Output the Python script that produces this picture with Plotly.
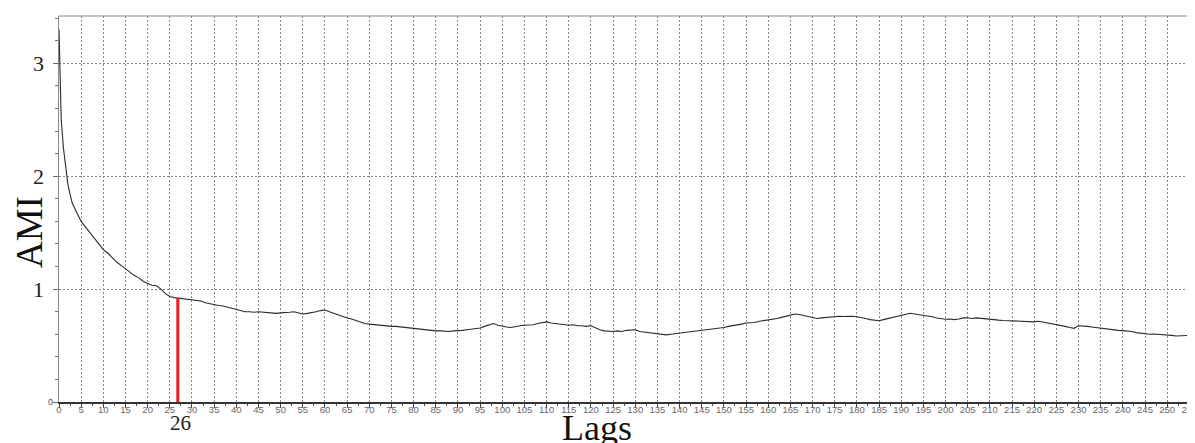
import plotly.graph_objects as go

# ---- data ----
lags_head = [0, 0.2, 0.5, 1, 1.5, 2, 2.5]
ami_head = [3.30, 2.85, 2.50, 2.25, 2.07, 1.93, 1.84]

ami_int = [
    # 3..29
    1.76, 1.68, 1.60, 1.55, 1.50, 1.44, 1.39, 1.35, 1.32, 1.28,
    1.24, 1.21, 1.18, 1.15, 1.12, 1.10, 1.07, 1.05, 1.035, 1.03,
    1.00, 0.96, 0.935, 0.925, 0.92, 0.91, 0.905,
    # 30..59
    0.90, 0.90, 0.895, 0.88, 0.87, 0.86, 0.855, 0.85, 0.84, 0.835,
    0.825, 0.81, 0.80, 0.80, 0.795, 0.80, 0.795, 0.79, 0.79, 0.785,
    0.79, 0.79, 0.795, 0.80, 0.79, 0.78, 0.785, 0.79, 0.80, 0.81,
    # 60..89
    0.815, 0.80, 0.785, 0.77, 0.755, 0.745, 0.735, 0.72, 0.705, 0.695,
    0.69, 0.685, 0.68, 0.68, 0.675, 0.67, 0.67, 0.665, 0.66, 0.66,
    0.655, 0.65, 0.645, 0.64, 0.635, 0.63, 0.63, 0.625, 0.625, 0.63,
    # 90..119
    0.63, 0.635, 0.64, 0.645, 0.65, 0.655, 0.67, 0.685, 0.695, 0.68,
    0.67, 0.665, 0.66, 0.67, 0.675, 0.68, 0.68, 0.685, 0.695, 0.705,
    0.71, 0.70, 0.695, 0.69, 0.685, 0.68, 0.685, 0.675, 0.675, 0.67,
    # 120..149
    0.675, 0.655, 0.64, 0.63, 0.625, 0.625, 0.63, 0.625, 0.635, 0.64,
    0.64, 0.625, 0.62, 0.615, 0.61, 0.61, 0.605, 0.595, 0.60, 0.605,
    0.61, 0.615, 0.62, 0.625, 0.63, 0.63, 0.64, 0.645, 0.65, 0.655,
    # 150..179
    0.66, 0.67, 0.675, 0.685, 0.69, 0.70, 0.70, 0.705, 0.715, 0.72,
    0.727, 0.735, 0.74, 0.75, 0.76, 0.77, 0.78, 0.775, 0.765, 0.755,
    0.745, 0.74, 0.745, 0.75, 0.755, 0.755, 0.76, 0.758, 0.762, 0.76,
    # 180..209
    0.756, 0.75, 0.74, 0.73, 0.725, 0.72, 0.73, 0.74, 0.75, 0.76,
    0.77, 0.78, 0.786, 0.78, 0.775, 0.765, 0.76, 0.755, 0.745, 0.738,
    0.733, 0.735, 0.73, 0.735, 0.745, 0.747, 0.74, 0.745, 0.74, 0.735,
    # 210..239
    0.733, 0.728, 0.725, 0.722, 0.72, 0.718, 0.72, 0.715, 0.712, 0.71,
    0.71, 0.715, 0.708, 0.70, 0.695, 0.69, 0.68, 0.67, 0.66, 0.653,
    0.675, 0.675, 0.67, 0.665, 0.66, 0.655, 0.645, 0.645, 0.64, 0.635,
    # 240..255
    0.632, 0.63, 0.625, 0.615, 0.61, 0.603, 0.60, 0.602, 0.60, 0.598,
    0.595, 0.59, 0.585, 0.585, 0.59, 0.59,
]
lags_int = list(range(3, 256))

lags = lags_head + lags_int
ami = ami_head + ami_int

marker_lag_label = "26"
marker_x = 26.8
marker_ami = 0.92

x_tick_vals = list(range(0, 256, 5))
x_tick_text = [str(v) for v in x_tick_vals]
y_big_labels = [1, 2, 3]

# ---- layout geometry (page has an 8px body margin) ----
OFF = 8
W, H = 1195 - OFF, 443 - OFF
ML, MR, MT, MB = 59 - OFF, 3, 16 - OFF, 41

fig = go.Figure()
fig.add_trace(go.Scatter(x=lags, y=ami, mode="lines",
                         line=dict(color="#2a2a2a", width=1.1), hoverinfo="skip",
                         showlegend=False))
fig.add_trace(go.Scatter(x=[marker_x, marker_x], y=[0, marker_ami], mode="lines",
                         line=dict(color="#ee1c25", width=3), hoverinfo="skip",
                         showlegend=False))

fig.update_layout(
    width=W, height=H,
    margin=dict(l=ML, r=MR, t=MT, b=MB, autoexpand=False),
    paper_bgcolor="white", plot_bgcolor="white",
    showlegend=False,
    xaxis=dict(
        range=[0, 255.6], tickmode="array", tickvals=x_tick_vals, ticktext=x_tick_text,
        tickfont=dict(family="Liberation Sans, Arial", size=9.5, color="#666666"),
        ticks="outside", ticklen=4, tickcolor="#444444", tickwidth=1,
        minor=dict(dtick=2.5, tick0=0, ticks="outside", ticklen=2, tickcolor="#555555",
                   showgrid=False),
        showgrid=True, gridcolor="#8a8a8a", griddash="2px,2px", gridwidth=1,
        showline=True, linecolor="#333333", linewidth=1.5, mirror=False,
        zeroline=False, ticklabelstandoff=-6, ticklabeloverflow="allow",
    ),
    yaxis=dict(
        range=[0, 3.42], tickmode="array", tickvals=[0, 1, 2, 3], ticktext=["", "", "", ""],
        ticks="outside", ticklen=5, tickcolor="#666666",
        minor=dict(dtick=0.2, tick0=0, ticks="outside", ticklen=3, tickcolor="#777777",
                   showgrid=False),
        showgrid=True, gridcolor="#8a8a8a", griddash="2px,2px", gridwidth=1,
        showline=True, linecolor="#888888", linewidth=1, zeroline=False,
    ),
)

# top and right frame
fig.add_shape(type="line", xref="paper", yref="paper", x0=0, x1=1, y0=1, y1=1,
              line=dict(color="#888888", width=1))
fig.add_shape(type="line", xref="paper", yref="paper", x0=1, x1=1, y0=0, y1=1,
              line=dict(color="#888888", width=1))

pw, ph = W - ML - MR, H - MT - MB
def px_to_paper(px, py):
    # px, py are screen pixels in the final 1195x443 picture
    return (px - OFF - ML) / pw, (H - MB - (py - OFF)) / ph

annotations = []
for v in y_big_labels:
    lx, _ = px_to_paper(38, 0)
    annotations.append(dict(x=lx, xref="paper", y=v, yref="y", text=str(v),
                            showarrow=False, xanchor="center", yanchor="middle",
                            font=dict(family="Liberation Serif, Times New Roman", size=22,
                                      color="#222222")))
zx, _ = px_to_paper(50, 0)
annotations.append(dict(x=zx, xref="paper", y=0, yref="y", text="0",
                        showarrow=False, xanchor="center", yanchor="middle",
                        font=dict(family="Liberation Sans, Arial", size=9, color="#555555")))

ax_x, ax_y = px_to_paper(29, 232)
lg_x, lg_y = px_to_paper(597, 428)
mk_x, mk_y = px_to_paper(180, 423)
annotations.append(dict(x=ax_x, y=ax_y, xref="paper", yref="paper", text="AMI",
                        showarrow=False, textangle=-90, xanchor="center", yanchor="middle",
                        font=dict(family="Liberation Serif, Times New Roman", size=37,
                                  color="#111111")))
annotations.append(dict(x=lg_x, y=lg_y, xref="paper", yref="paper", text="Lags",
                        showarrow=False, xanchor="center", yanchor="middle",
                        font=dict(family="Liberation Serif, Times New Roman", size=36,
                                  color="#111111")))
annotations.append(dict(x=mk_x, y=mk_y, xref="paper", yref="paper", text=marker_lag_label,
                        showarrow=False, xanchor="center", yanchor="middle",
                        font=dict(family="Liberation Serif, Times New Roman", size=21,
                                  color="#222222")))
fig.update_layout(annotations=annotations)

fig.write_html("out.html")
